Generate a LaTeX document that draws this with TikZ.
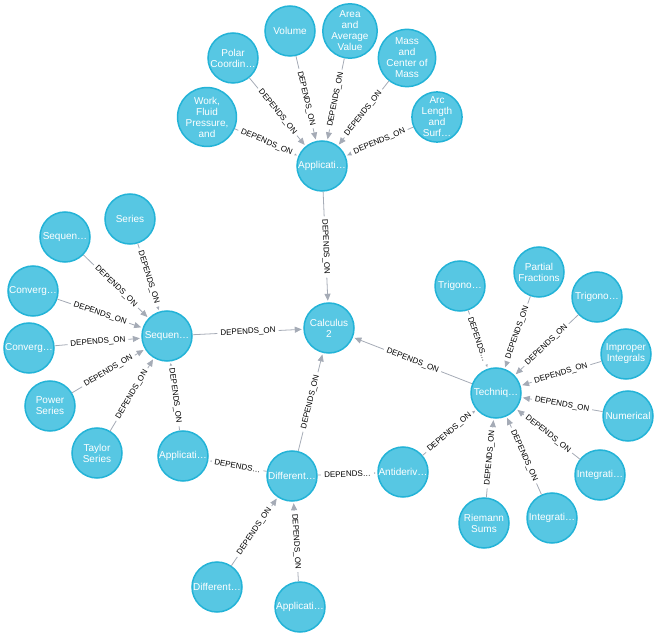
\documentclass[tikz,border=0pt]{standalone}
\usepackage{fontspec}
\setmainfont{Liberation Sans}
\usetikzlibrary{arrows.meta}
\definecolor{topicfill}{HTML}{57C7E3}
\definecolor{topicline}{HTML}{23B3D7}
\definecolor{linkgray}{HTML}{A5ABB6}
\begin{document}
\begin{tikzpicture}[x=1pt, y=-1pt,
  topic/.style={circle, fill=topicfill, draw=topicline, line width=1.5pt, minimum size=50pt, inner sep=0pt, text=white, align=center, font=\fontsize{10}{11}\selectfont},
  dep/.style={draw=linkgray, line width=0.8pt, -{Triangle[length=7pt,width=6pt]}, shorten >=1.5pt},
  deplabel/.style={midway, sloped, fill=white, inner xsep=3pt, inner ysep=1pt, text=black, font=\fontsize{8}{8}\selectfont}]
\useasboundingbox (0,0) rectangle (656,636);
% centre
\node [topic] (calc) at (329,328) {Calculus\\2};
% applications cluster
\node [topic] (appl) at (322,166) {Applicati…};
\node [topic] (work) at (207,117) {Work,\\Fluid\\Pressure,\\and};
\node [topic] (polar) at (233,58) {Polar\\Coordin…};
\node [topic] (volume) at (290,31) {Volume};
\node [topic] (area) at (350,31) {Area\\and\\Average\\Value};
\node [topic] (mass) at (407,58) {Mass\\and\\Center of\\Mass};
\node [topic] (arc) at (437,117) {Arc\\Length\\and\\Surf…};
% sequences cluster
\node [topic] (seq) at (167,336) {Sequen…};
\node [topic] (series) at (130,219) {Series};
\node [topic] (seqout) at (65,237) {Sequen…};
\node [topic] (conva) at (33,291) {Converg…};
\node [topic] (convb) at (29,348) {Converg…};
\node [topic] (power) at (50,406) {Power\\Series};
\node [topic] (taylor) at (97,453) {Taylor\\Series};
\node [topic] (appleft) at (183,456) {Applicati…};
% differential equations
\node [topic] (diff) at (292,476) {Different…};
\node [topic] (anti) at (403,472) {Antideriv…};
\node [topic] (diffb) at (217,587) {Different…};
\node [topic] (applb) at (300,607) {Applicati…};
% techniques cluster
\node [topic] (tech) at (496,393) {Techniq…};
\node [topic] (triga) at (460,286) {Trigono…};
\node [topic] (partial) at (539,272) {Partial\\Fractions};
\node [topic] (trigb) at (597,297) {Trigono…};
\node [topic] (improper) at (626,354) {Improper\\Integrals};
\node [topic] (numerical) at (628,416) {Numerical};
\node [topic] (intga) at (600,475) {Integrati…};
\node [topic] (intgb) at (552,518) {Integrati…};
\node [topic] (riemann) at (484,523) {Riemann\\Sums};
% links
\draw [dep] (work) -- (appl) node [deplabel] {DEPENDS\_ON};
\draw [dep] (polar) -- (appl) node [deplabel] {DEPENDS\_ON};
\draw [dep] (volume) -- (appl) node [deplabel] {DEPENDS\_ON};
\draw [dep] (area) -- (appl) node [deplabel] {DEPENDS\_ON};
\draw [dep] (mass) -- (appl) node [deplabel] {DEPENDS\_ON};
\draw [dep] (arc) -- (appl) node [deplabel] {DEPENDS\_ON};
\draw [dep] (appl) -- (calc) node [deplabel] {DEPENDS\_ON};
\draw [dep] (series) -- (seq) node [deplabel] {DEPENDS\_ON};
\draw [dep] (seqout) -- (seq) node [deplabel] {DEPENDS\_ON};
\draw [dep] (conva) -- (seq) node [deplabel] {DEPENDS\_ON};
\draw [dep] (convb) -- (seq) node [deplabel] {DEPENDS\_ON};
\draw [dep] (power) -- (seq) node [deplabel] {DEPENDS\_ON};
\draw [dep] (taylor) -- (seq) node [deplabel] {DEPENDS\_ON};
\draw [dep] (appleft) -- (seq) node [deplabel] {DEPENDS\_ON};
\draw [dep] (seq) -- (calc) node [deplabel] {DEPENDS\_ON};
\draw [dep] (diff) -- (appleft) node [deplabel] {DEPENDS…};
\draw [dep] (diff) -- (anti) node [deplabel] {DEPENDS…};
\draw [dep] (diff) -- (calc) node [deplabel] {DEPENDS\_ON};
\draw [dep] (diffb) -- (diff) node [deplabel] {DEPENDS\_ON};
\draw [dep] (applb) -- (diff) node [deplabel] {DEPENDS\_ON};
\draw [dep] (anti) -- (tech) node [deplabel] {DEPENDS\_ON};
\draw [dep] (tech) -- (calc) node [deplabel] {DEPENDS\_ON};
\draw [dep] (triga) -- (tech) node [deplabel] {DEPENDS…};
\draw [dep] (partial) -- (tech) node [deplabel] {DEPENDS\_ON};
\draw [dep] (trigb) -- (tech) node [deplabel] {DEPENDS\_ON};
\draw [dep] (improper) -- (tech) node [deplabel] {DEPENDS\_ON};
\draw [dep] (numerical) -- (tech) node [deplabel] {DEPENDS\_ON};
\draw [dep] (intga) -- (tech) node [deplabel] {DEPENDS\_ON};
\draw [dep] (intgb) -- (tech) node [deplabel] {DEPENDS\_ON};
\draw [dep] (riemann) -- (tech) node [deplabel] {DEPENDS\_ON};
\end{tikzpicture}
\end{document}
